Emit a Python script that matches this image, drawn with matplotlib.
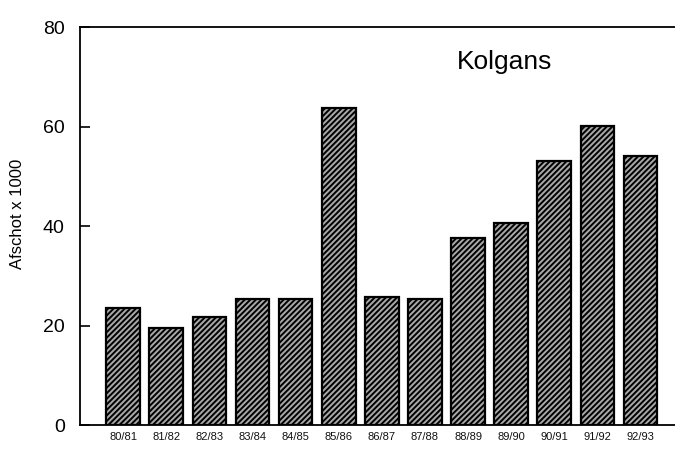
import matplotlib.pyplot as plt

plt.rcParams['font.family'] = ['Liberation Sans', 'DejaVu Sans']
plt.rcParams['hatch.linewidth'] = 1.4

seasons = ["80/81", "81/82", "82/83", "83/84", "84/85", "85/86", "86/87",
           "87/88", "88/89", "89/90", "90/91", "91/92", "92/93"]
afschot = [23.6, 19.6, 21.8, 25.4, 25.4, 63.8, 25.8, 25.4, 37.6, 40.6, 53.0, 60.2, 54.0]

fig = plt.figure(figsize=(6.75, 4.58), dpi=100)
ax = fig.add_axes([0.1185, 0.072, 0.8815, 0.869])

x = list(range(len(seasons)))
ax.bar(x, afschot, width=0.78, color='#a8a8a8', edgecolor='black',
       linewidth=1.6, hatch='//////')

ax.set_xlim(-1, 12.8)
ax.set_ylim(0, 80)
ax.set_yticks([0, 20, 40, 60, 80])
ax.set_xticks(x)
ax.set_xticklabels(seasons, fontsize=8, color='#111111')
ax.tick_params(axis='x', length=0, pad=5)
ax.tick_params(axis='y', direction='in', length=7, width=1.2, labelsize=14, pad=11)
ax.spines['right'].set_visible(False)
for s in ['left', 'top', 'bottom']:
    ax.spines[s].set_linewidth(1.3)

ax.set_ylabel("Afschot x 1000", fontsize=12)
ax.yaxis.set_label_coords(-0.092, 0.53)
ax.text(8.85, 73, "Kolgans", fontsize=19, ha='center', va='center')

fig.savefig("out.png", dpi=100)
